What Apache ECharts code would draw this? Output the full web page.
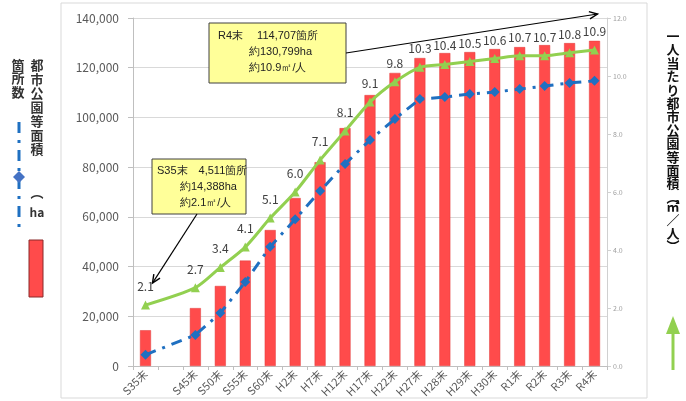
<!DOCTYPE html>
<html><head><meta charset="utf-8">
<script src="https://cdn.jsdelivr.net/npm/echarts@6/dist/echarts.min.js"></script>
<style>html,body{margin:0;padding:0;background:#fff}#c{width:686px;height:401px}</style>
</head><body><div id="c"></div>
<script>
// ---- data ----
const categories = ['S35末','','S45末','S50末','S55末','S60末','H2末','H7末','H12末','H17末','H22末','H27末','H28末','H29末','H30末','R1末','R2末','R3末','R4末'];
const parkArea  = [14388,null,23300,32200,42400,54700,67600,82000,95700,109000,117900,123900,125900,126300,127500,128300,129100,129900,130799];
const parkCount = [4511,null,12500,21300,33800,48000,59000,70400,81300,90900,99400,107400,108200,109400,110200,111400,112600,113900,114707];
const perCapita = [2.1,null,2.7,3.4,4.1,5.1,6.0,7.1,8.1,9.1,9.8,10.3,10.4,10.5,10.6,10.7,10.7,10.8,10.9];
const leftAxisTicks  = {min:0, max:140000, interval:20000};
const rightAxisTicks = {min:0, max:12, interval:2};
const leftLegend  = ['箇所数', '都市公園等面積（ha）'];
const rightLegend = '一人当たり都市公園等面積（㎡／人）';

const FONT = '"Noto Sans CJK JP","Noto Sans",sans-serif';
const RED = '#FF4B4B', BLUE = '#1F70C1', GREEN = '#92D050';

const chart = echarts.init(document.getElementById('c'), null, {renderer:'canvas'});
const fmt = n => n.toLocaleString('en-US');

chart.setOption({
  animation:false,
  textStyle:{fontFamily:FONT},
  grid:{left:133, right:79, top:18, bottom:35},
  xAxis:{
    type:'category', data:categories, boundaryGap:true,
    axisLine:{lineStyle:{color:'#bfbfbf'}},
    axisTick:{show:true, alignWithLabel:false, length:4, lineStyle:{color:'#bfbfbf'}},
    axisLabel:{rotate:45, fontSize:11, color:'#595959', margin:6, interval:0, fontFamily:FONT}
  },
  yAxis:[{
    type:'value', min:leftAxisTicks.min, max:leftAxisTicks.max, interval:leftAxisTicks.interval,
    axisLine:{show:true, lineStyle:{color:'#bfbfbf'}},
    axisTick:{show:true, length:5, lineStyle:{color:'#bfbfbf'}},
    splitLine:{lineStyle:{color:'#d9d9d9'}},
    axisLabel:{fontSize:12, color:'#595959', margin:14, formatter:v=>fmt(v), fontFamily:FONT}
  },{
    type:'value', min:rightAxisTicks.min, max:rightAxisTicks.max, interval:rightAxisTicks.interval,
    axisLine:{show:true, lineStyle:{color:'#d0d0d0'}},
    axisTick:{show:true, length:4, lineStyle:{color:'#d0d0d0'}},
    splitLine:{show:false},
    axisLabel:{fontSize:7, color:'#a0a0a0', margin:6, formatter:v=>v.toFixed(1)}
  }],
  series:[{
    name:'都市公園等面積（ha）', type:'bar', data:parkArea, yAxisIndex:0,
    barWidth:11, itemStyle:{color:RED, borderColor:'#e03c3c', borderWidth:0.5}, z:2
  },{
    name:'箇所数', type:'line', data:parkCount, yAxisIndex:0, connectNulls:true,
    symbol:'diamond', symbolSize:10, itemStyle:{color:BLUE},
    lineStyle:{color:BLUE, width:3, type:[11,7,3,7]}, z:3
  },{
    name:'一人当たり都市公園等面積', type:'line', data:perCapita, yAxisIndex:1, connectNulls:true,
    smooth:0.25, symbol:'triangle', symbolSize:9, itemStyle:{color:GREEN},
    lineStyle:{color:GREEN, width:3}, z:4,
    label:{show:true, position:'top', distance:8, fontSize:12, color:'#404040',
           formatter:p=>p.value==null?'':p.value.toFixed(1), fontFamily:FONT}
  }]
});

// ---- annotations / legends ----
const g = [];
g.push({type:'rect', shape:{x:61,y:3,width:586,height:395}, style:{fill:'none', stroke:'#d9d9d9', lineWidth:1}, z:-1, silent:true});

function arrow(x1,y1,x2,y2){
  const a = Math.atan2(y2-y1, x2-x1), L = 9, w = 0.42;
  const p1 = [x2 - L*Math.cos(a-w), y2 - L*Math.sin(a-w)];
  const p2 = [x2 - L*Math.cos(a+w), y2 - L*Math.sin(a+w)];
  g.push({type:'line', shape:{x1,y1,x2,y2}, style:{stroke:'#000', lineWidth:1.2}, z:50});
  g.push({type:'polyline', shape:{points:[p1,[x2,y2],p2]}, style:{stroke:'#000', lineWidth:1.4, fill:null}, z:50});
}
function box(x,y,w,h,lines){
  g.push({type:'rect', shape:{x,y,width:w,height:h}, style:{fill:'#FFFF99', stroke:'#404040', lineWidth:1}, z:40});
  lines.forEach(l=>g.push({type:'text', x:l[1], y:l[2], style:{text:l[0], fontSize:11, fill:'#222', font:'11px '+FONT, textVerticalAlign:'middle'}, z:41}));
}
const n = categories.length-1;
box(152,159,94,55,[
  ['S35末　'+fmt(parkCount[0])+'箇所',157,171],
  ['約'+fmt(parkArea[0])+'ha',180,187],
  ['約'+perCapita[0].toFixed(1)+'㎡/人',180,203]
]);
box(209,23,137,60,[
  ['R4末　 '+fmt(parkCount[n])+'箇所',218,36],
  ['約'+fmt(parkArea[n])+'ha',249,52],
  ['約'+perCapita[n].toFixed(1)+'㎡/人',249,68]
]);
const p0 = chart.convertToPixel({xAxisIndex:0, yAxisIndex:1}, [0, perCapita[0]]);
arrow(197,214, p0[0]+7, p0[1]-22);
const pN = chart.convertToPixel({xAxisIndex:0, yAxisIndex:1}, [n, rightAxisTicks.max]);
arrow(346,53, pN[0]+3, pN[1]-4);

// vertical text helper
function vtext(str, x, y0, step, size, color){
  let y = y0;
  const narrow = '（）︵︶';
  for (const ch of str){
    let c = ch, s = step;
    if (ch==='（'){ c='︵'; s = step*0.7; }
    if (ch==='）'){ c='︶'; s = step*0.7; }
    g.push({type:'text', x, y:y, style:{text:c, font:'bold '+size+'px '+FONT, fill:color, align:'center', verticalAlign:'middle'}, z:30});
    y += s;
  }
}
vtext(leftLegend[0], 18, 65, 13.5, 13, '#333');
vtext('都市公園等面積', 37, 65, 14, 13, '#333');
g.push({type:'text', x:37, y:192, style:{text:'︵', font:'bold 13px '+FONT, fill:'#333', align:'center', verticalAlign:'middle'}, z:30});
g.push({type:'text', x:37, y:212, style:{text:'ha', font:'bold 12px '+FONT, fill:'#333', align:'center', verticalAlign:'middle', textDecoration:'underline'}, z:30});
// blue legend
g.push({type:'line', shape:{x1:19,y1:122,x2:19,y2:228}, style:{stroke:BLUE, lineWidth:3, lineDash:[11,7,3,7]}, z:30});
g.push({type:'polygon', shape:{points:[[19,171],[25,177],[19,183],[13,177]]}, style:{fill:'#4472C4'}, z:31});
// red legend
g.push({type:'rect', shape:{x:29,y:240,width:14,height:57}, style:{fill:RED, stroke:'#8a2a2a', lineWidth:1}, z:30});
// right legend
vtext(rightLegend, 673, 36, 13.4, 13, '#111');
g.push({type:'line', shape:{x1:673,y1:325,x2:673,y2:370}, style:{stroke:GREEN, lineWidth:3}, z:30});
g.push({type:'polygon', shape:{points:[[673,316],[680,334],[666,334]]}, style:{fill:GREEN}, z:31});

chart.setOption({graphic:{elements:g}});
</script></body></html>
